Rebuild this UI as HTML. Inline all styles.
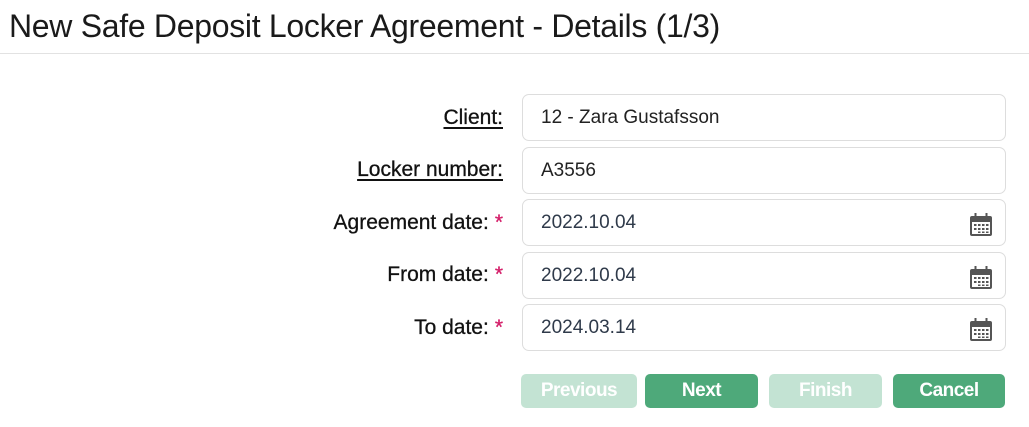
<!DOCTYPE html>
<html><head><style>
body{margin:0;width:1029px;height:427px;background:#fff;font-family:"Liberation Sans",sans-serif;position:relative;overflow:hidden;color:#111}
.title{position:absolute;left:9px;top:8px;font-size:32px;color:#1a1a1a;letter-spacing:-0.3px}
.hr{position:absolute;left:0;top:53px;width:1029px;height:1px;background:#e2e2e2}
.lab{position:absolute;right:526px;font-size:21px;color:#111;text-align:right;white-space:nowrap;-webkit-text-stroke:0.3px #111}
.lab u{text-underline-offset:3px}
.ast{color:#d4206a;margin-left:6px;-webkit-text-stroke:0.3px #d4206a}
.inp{position:absolute;left:522px;width:484px;height:47px;border:1px solid #ddd;border-radius:7px;box-sizing:border-box}
.inp span{position:absolute;left:18px;top:12px;font-size:19px;color:#222}
.inp span.d{color:#2f3a4a}
.cal{position:absolute;right:12px;top:13px}
.btn{position:absolute;top:374px;height:34px;border-radius:5px;color:#fff;font-weight:bold;font-size:19px;text-align:center;line-height:34px;letter-spacing:-0.5px}
.on{background:#4ea97a}.off{background:#c3e3d3}
</style></head><body>
<div class="title">New Safe Deposit Locker Agreement - Details (1/3)</div>
<div class="hr"></div>

<div class="lab" style="top:106px"><u>Client:</u></div>
<div class="lab" style="top:158px"><u>Locker number:</u></div>
<div class="lab" style="top:211px">Agreement date:<span class="ast">*</span></div>
<div class="lab" style="top:263px">From date:<span class="ast">*</span></div>
<div class="lab" style="top:316px">To date:<span class="ast">*</span></div>

<div class="inp" style="top:94px"><span>12 - Zara Gustafsson</span></div>
<div class="inp" style="top:147px"><span>A3556</span></div>
<div class="inp" style="top:199px"><span class="d">2022.10.04</span><svg class="cal" width="24" height="24" viewBox="0 0 24 24"><rect x="1" y="3" width="22" height="20" rx="2" fill="#555"/><rect x="3" y="9" width="18" height="12" fill="#fff"/><g fill="#555"><rect x="5" y="11" width="2.5" height="2"/><rect x="9" y="11" width="2.5" height="2"/><rect x="13" y="11" width="2.5" height="2"/><rect x="17" y="11" width="2.5" height="2"/><rect x="5" y="15" width="2.5" height="2"/><rect x="9" y="15" width="2.5" height="2"/><rect x="13" y="15" width="2.5" height="2"/><rect x="17" y="15" width="2.5" height="2"/><rect x="9" y="18.5" width="2.5" height="1.5"/><rect x="13" y="18.5" width="2.5" height="1.5"/><rect x="17" y="18.5" width="2.5" height="1.5"/></g><rect x="5.5" y="0" width="2" height="6" fill="#555"/><rect x="16.5" y="0" width="2" height="6" fill="#555"/></svg></div>
<div class="inp" style="top:252px"><span class="d">2022.10.04</span><svg class="cal" width="24" height="24" viewBox="0 0 24 24"><rect x="1" y="3" width="22" height="20" rx="2" fill="#555"/><rect x="3" y="9" width="18" height="12" fill="#fff"/><g fill="#555"><rect x="5" y="11" width="2.5" height="2"/><rect x="9" y="11" width="2.5" height="2"/><rect x="13" y="11" width="2.5" height="2"/><rect x="17" y="11" width="2.5" height="2"/><rect x="5" y="15" width="2.5" height="2"/><rect x="9" y="15" width="2.5" height="2"/><rect x="13" y="15" width="2.5" height="2"/><rect x="17" y="15" width="2.5" height="2"/><rect x="9" y="18.5" width="2.5" height="1.5"/><rect x="13" y="18.5" width="2.5" height="1.5"/><rect x="17" y="18.5" width="2.5" height="1.5"/></g><rect x="5.5" y="0" width="2" height="6" fill="#555"/><rect x="16.5" y="0" width="2" height="6" fill="#555"/></svg></div>
<div class="inp" style="top:304px"><span class="d">2024.03.14</span><svg class="cal" width="24" height="24" viewBox="0 0 24 24"><rect x="1" y="3" width="22" height="20" rx="2" fill="#555"/><rect x="3" y="9" width="18" height="12" fill="#fff"/><g fill="#555"><rect x="5" y="11" width="2.5" height="2"/><rect x="9" y="11" width="2.5" height="2"/><rect x="13" y="11" width="2.5" height="2"/><rect x="17" y="11" width="2.5" height="2"/><rect x="5" y="15" width="2.5" height="2"/><rect x="9" y="15" width="2.5" height="2"/><rect x="13" y="15" width="2.5" height="2"/><rect x="17" y="15" width="2.5" height="2"/><rect x="9" y="18.5" width="2.5" height="1.5"/><rect x="13" y="18.5" width="2.5" height="1.5"/><rect x="17" y="18.5" width="2.5" height="1.5"/></g><rect x="5.5" y="0" width="2" height="6" fill="#555"/><rect x="16.5" y="0" width="2" height="6" fill="#555"/></svg></div>

<div class="btn off" style="left:521px;width:116px">Previous</div>
<div class="btn on" style="left:645px;width:113px">Next</div>
<div class="btn off" style="left:769px;width:113px">Finish</div>
<div class="btn on" style="left:893px;width:112px">Cancel</div>
</body></html>
